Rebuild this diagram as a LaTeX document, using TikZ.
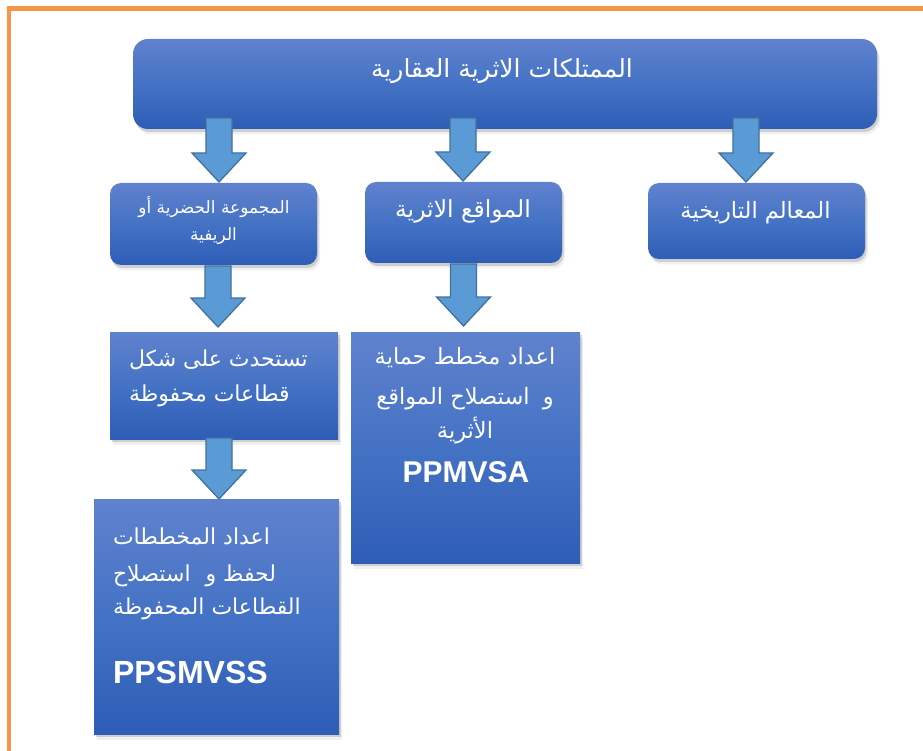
\documentclass[tikz,border=0pt]{standalone}
\usepackage{fontspec}
\setmainfont{Liberation Sans}
\newfontfamily\arabicfont[Script=Arabic]{DejaVu Sans}
\TeXXeTstate=1
\usetikzlibrary{shadows,calc}
\definecolor{boxtop}{RGB}{96,130,206}
\definecolor{boxmid}{RGB}{68,114,196}
\definecolor{boxbot}{RGB}{46,93,183}
\definecolor{arrfill}{RGB}{91,155,213}
\definecolor{arrline}{RGB}{65,113,156}
\definecolor{framecol}{RGB}{247,150,70}
\newcommand\arsize[1]{\arabicfont\fontsize{#1}{#1}\selectfont}
\tikzset{
  boxbase/.style={inner sep=0pt, outer sep=0pt, top color=boxtop, bottom color=boxbot, middle color=boxmid,
    drop shadow={shadow xshift=3pt, shadow yshift=-5.5pt, opacity=0.12},
    drop shadow={shadow xshift=1.5pt, shadow yshift=-3pt, opacity=0.3}},
  roundbox/.style={boxbase, rounded corners=#1},
  squarebox/.style={boxbase},
  arrowshape/.style={fill=arrfill, draw=arrline, line width=1.3pt, line join=miter},
  lbl/.style={text=white, inner sep=0pt, outer sep=0pt},
}
% #1 x coordinate name, #2 source node, #3 target node, #4 overlap into source, #5 gap above target
\newcommand\blockarrow[5]{%
  \draw[arrowshape] ($(#2.south -| #1)+(-13,-#4)$) -- ($(#2.south -| #1)+(13,-#4)$)
    -- ($(#3.north -| #1)+(13,-29-#5)$) -- ($(#3.north -| #1)+(27,-29-#5)$)
    -- ($(#3.north -| #1)+(0,-#5)$)
    -- ($(#3.north -| #1)+(-27,-29-#5)$) -- ($(#3.north -| #1)+(-13,-29-#5)$) -- cycle;}
\begin{document}
\begin{tikzpicture}[x=1pt,y=-1pt]
\useasboundingbox (0,0) rectangle (923,751);
% frame
\draw[framecol, line width=4.5pt] (9,760) -- (9,8.5) -- (930,8.5);
% boxes
\node[roundbox=15pt, minimum width=744pt, minimum height=90pt] (top) at (505,84) {};
\node[roundbox=11pt, minimum width=207pt, minimum height=82pt] (grp) at (213.5,224) {};
\node[roundbox=11pt, minimum width=197pt, minimum height=81pt] (sites) at (463.5,222.5) {};
\node[roundbox=11pt, minimum width=217pt, minimum height=76pt] (monu) at (756.5,221) {};
\node[squarebox, minimum width=228pt, minimum height=107pt] (sect) at (224,385.5) {};
\node[squarebox, minimum width=229pt, minimum height=231pt] (ppmvsa) at (465.5,447.5) {};
\node[squarebox, minimum width=245pt, minimum height=235pt] (ppsmvss) at (216.5,616.5) {};
% arrow x positions
\coordinate (xa) at (219,0);
\coordinate (xb) at (463,0);
\coordinate (xc) at (746,0);
\coordinate (xd) at (218,0);
\coordinate (xe) at (463.5,0);
\coordinate (xf) at (219,0);
\blockarrow{xa}{top}{grp}{11}{1}
\blockarrow{xb}{top}{sites}{11}{1}
\blockarrow{xc}{top}{monu}{11}{1}
\blockarrow{xd}{grp}{sect}{-1}{5}
\blockarrow{xe}{sites}{ppmvsa}{-1}{6}
\blockarrow{xf}{sect}{ppsmvss}{1}{0}
% texts
\node[lbl, anchor=base] (t0) at (502,{70+0.3*25}) {\arsize{25}\beginR الممتلكات الاثرية العقارية\endR};
\node[lbl, anchor=base] (t1a) at (214,{208+0.3*17}) {\arsize{17}\beginR المجموعة الحضرية أو\endR};
\node[lbl, anchor=base] (t1b) at (213.5,{235+0.3*17}) {\arsize{17}\beginR الريفية\endR};
\node[lbl, anchor=base] (t2) at (463,{210+0.3*23.5}) {\arsize{23.5}\beginR المواقع الاثرية\endR};
\node[lbl, anchor=base] (t3) at (755.5,{212+0.3*22.5}) {\arsize{22.5}\beginR المعالم التاريخية\endR};
\node[lbl, anchor=base west] (t4a) at (129,{360+0.3*22}) {\arsize{22}\beginR تستحدث على شكل\endR};
\node[lbl, anchor=base west] (t4b) at (129,{395+0.3*22}) {\arsize{22}\beginR قطاعات محفوظة\endR};
\node[lbl, anchor=base] (t5a) at (465,{358+0.3*22.5}) {\arsize{22.5}\beginR اعداد مخطط حماية\endR};
\node[lbl, anchor=base] (t5b) at (465,{398+0.3*22.5}) {\arsize{22.5}\beginR و\hspace{6pt} استصلاح المواقع\endR};
\node[lbl, anchor=base] (t5c) at (465,{432+0.3*22.5}) {\arsize{22.5}\beginR الأثرية\endR};
\node[lbl, anchor=base] (t5d) at (466,482) {\fontsize{30}{30}\selectfont\bfseries PPMVSA};
\node[lbl, anchor=base west] (t6a) at (113,{538+0.3*22}) {\arsize{22}\beginR اعداد المخططات\endR};
\node[lbl, anchor=base west] (t6b) at (113,{575+0.3*22}) {\arsize{22}\beginR لحفظ و\hspace{8pt} استصلاح\endR};
\node[lbl, anchor=base west] (t6c) at (113,{608+0.3*22}) {\arsize{22}\beginR القطاعات المحفوظة\endR};
\node[lbl, anchor=base west] (t6d) at (113,683) {\fontsize{32}{32}\selectfont\bfseries PPSMVSS};
\end{tikzpicture}
\end{document}
